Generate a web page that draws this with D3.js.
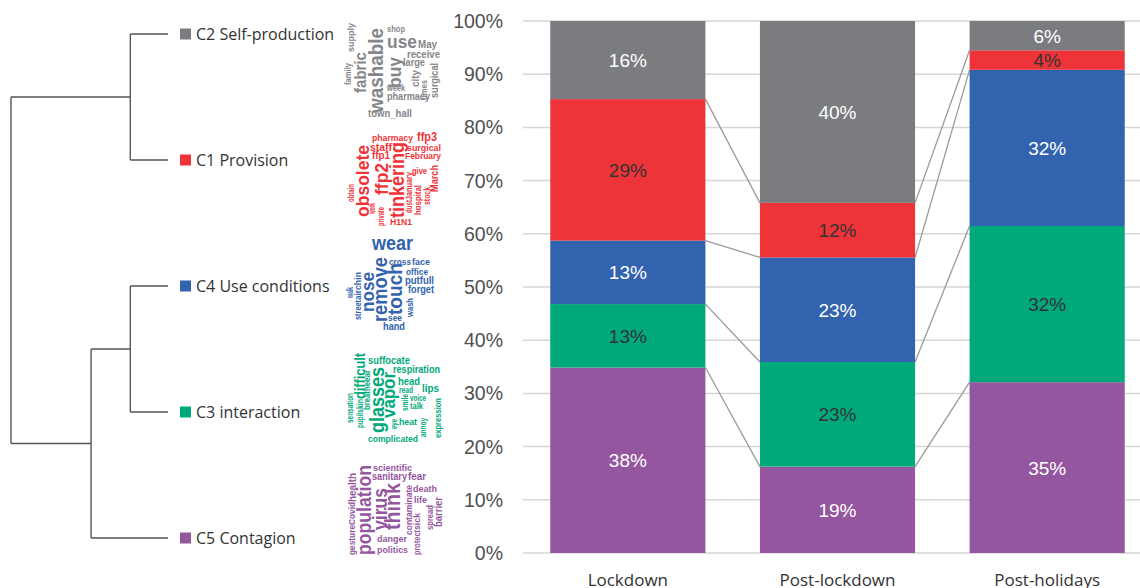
<!DOCTYPE html>
<html>
<head>
<meta charset="utf-8">
<script src="https://cdn.jsdelivr.net/npm/d3@7"></script>
<style>
  body { margin: 0; background: #fff; }
  svg { display: block; }
</style>
</head>
<body>
<div id="chart"></div>
<script>
// Clusters (stack order bottom -> top) and periods
const periods = ["Lockdown", "Post-lockdown", "Post-holidays"];
const clusterKeys = ["C5", "C3", "C4", "C1", "C2"];
const clusterNames = ["C5 Contagion", "C3 interaction", "C4 Use conditions", "C1 Provision", "C2 Self-production"];
const clusterColors = ["#9556a0", "#00a97a", "#3263ae", "#ee3439", "#7b7c80"];
const labelColors = ["#ffffff", "#333333", "#ffffff", "#333333", "#ffffff"];

// Percent labels shown in each segment (bars are drawn normalised to 100%)
const lockdownPct = [38, 13, 13, 29, 16];
const postLockdownPct = [19, 23, 23, 12, 40];
const postHolidaysPct = [35, 32, 32, 4, 6];

const tickValues = [0, 10, 20, 30, 40, 50, 60, 70, 80, 90, 100];

// Dendrogram: leaf order top -> bottom, merge heights (0 = leaf, 1 = root)
const leafOrder = ["C2", "C1", "C4", "C3", "C5"];
const mergeC2C1 = 0.24;
const mergeC4C3 = 0.24;
const mergeC43C5 = 0.49;
const mergeRoot = 1.0;

// Word clouds: [word, rotated, a, b, c]
// horizontal: a = x start, b = x end, c = baseline y ; rotated: a = centre x, b = bottom y, c = top y
// font size follows from the word's length in the picture
const cloudC2 = [
  ["family", 1, 348, 85, 63], ["supply", 1, 351, 52, 23], ["fabric", 1, 361, 93, 52],
  ["washable", 1, 376, 113, 28], ["buy", 1, 395, 88, 57], ["use", 0, 387, 417, 48],
  ["shop", 0, 387, 405, 32], ["May", 0, 418, 437, 48], ["receive", 0, 407, 440, 58],
  ["large", 0, 403, 425, 66], ["city", 1, 415, 87, 70], ["times", 1, 424, 100, 80],
  ["surgical", 1, 435, 98, 63], ["week", 0, 387, 405, 91], ["pharmacy", 0, 387, 430, 100],
  ["town_hall", 0, 368, 412, 117]
];
const cloudC1 = [
  ["pharmacy", 0, 372, 413, 141], ["ffp3", 0, 417, 437, 141], ["staff", 0, 370, 392, 151],
  ["surgical", 0, 407, 441, 151], ["ffp1", 0, 372, 390, 159], ["February", 0, 405, 441, 159],
  ["obsolete", 1, 363, 217, 145], ["ffp2", 1, 382, 195, 163], ["tinkering", 1, 397, 218, 142],
  ["obtain", 1, 351, 202, 184], ["work", 1, 372, 214, 203], ["private", 1, 381, 226, 207],
  ["dust", 1, 409, 213, 200], ["January", 1, 409, 200, 172], ["give", 0, 412, 427, 174],
  ["hospital", 1, 418, 215, 185], ["stock", 1, 427, 205, 187], ["March", 1, 435, 192, 165],
  ["H1N1", 0, 390, 412, 225]
];
const cloudC4 = [
  ["wear", 0, 372, 413, 250], ["cross", 0, 389, 411, 265], ["face", 0, 412, 430, 265],
  ["office", 0, 406, 428, 275], ["putfull", 0, 405, 434, 284], ["forget", 0, 408, 434, 293],
  ["walk", 1, 350, 298, 287], ["street", 1, 358, 320, 300], ["air", 1, 358, 300, 290],
  ["chin", 1, 358, 290, 272], ["nose", 1, 368, 312, 272], ["remove", 1, 380, 322, 257],
  ["touch", 1, 395, 315, 263], ["wash", 1, 410, 317, 298], ["see", 0, 388, 402, 321],
  ["hand", 0, 383, 405, 330]
];
const cloudC3 = [
  ["suffocate", 0, 368, 410, 364], ["respiration", 0, 393, 440, 373], ["sensation", 1, 350, 423, 393],
  ["pupil", 1, 360, 428, 413], ["skin", 1, 360, 413, 399], ["difficult", 1, 360, 399, 353],
  ["breathe", 1, 367, 410, 382], ["ear", 1, 367, 382, 370], ["glasses", 1, 377, 433, 367],
  ["vapor", 1, 389, 418, 372], ["head", 0, 398, 420, 385], ["read", 0, 399, 413, 393],
  ["lips", 0, 422, 439, 392], ["voice", 0, 410, 426, 401], ["talk", 0, 410, 423, 409],
  ["smile", 1, 405, 411, 394], ["eye", 1, 394, 429, 419], ["heat", 0, 399, 417, 425],
  ["annoy", 1, 423, 437, 418], ["expression", 1, 438, 438, 398], ["complicated", 0, 368, 418, 442]
];
const cloudC5 = [
  ["scientific", 0, 373, 412, 471], ["sanitary", 0, 372, 407, 480], ["fear", 0, 408, 426, 480],
  ["gesture", 1, 352, 555, 525], ["Covid", 1, 352, 525, 502], ["health", 1, 352, 502, 473],
  ["population", 1, 365, 555, 465], ["virus", 1, 381, 530, 488], ["think", 1, 393, 530, 483],
  ["contaminate", 1, 409, 535, 485], ["death", 0, 413, 437, 492], ["life", 0, 414, 427, 503],
  ["protect", 1, 417, 555, 530], ["sick", 1, 417, 530, 513], ["spread", 1, 430, 530, 505],
  ["barrier", 1, 439, 527, 497], ["danger", 0, 377, 407, 542], ["politics", 0, 377, 408, 553]
];
const clouds = [cloudC2, cloudC1, cloudC4, cloudC3, cloudC5];
const cloudColors = ["#85868a", "#ee3439", "#3263ae", "#00a97a", "#9556a0"];

const W = 1140, H = 588;
const svg = d3.select("#chart").append("svg").attr("width", W).attr("height", H);

// ---------- Stacked bars ----------
const table = periods.map((p, i) => {
  const vals = [lockdownPct, postLockdownPct, postHolidaysPct][i];
  const row = {period: p};
  clusterKeys.forEach((k, j) => row[k] = vals[j]);
  return row;
});
const series = d3.stack().keys(clusterKeys).offset(d3.stackOffsetExpand)(table);

const x = d3.scaleBand().domain(periods).range([523, 1152]).paddingInner(0.26).paddingOuter(0.13);
const y = d3.scaleLinear().domain([0, 1]).range([553, 21]);

// gridlines
svg.append("g").selectAll("line")
  .data(tickValues)
  .join("line")
    .attr("x1", 523).attr("x2", W)
    .attr("y1", d => y(d / 100)).attr("y2", d => y(d / 100))
    .attr("stroke", "#d6d6d6").attr("stroke-width", 1.5);

// y tick labels
svg.append("g").selectAll("text")
  .data(tickValues)
  .join("text")
    .attr("x", 503).attr("y", d => y(d / 100) + 7)
    .attr("text-anchor", "end")
    .style("font-family", "Liberation Sans, Arial, sans-serif")
    .style("font-size", "19.5px").attr("fill", "#505050")
    .text(d => d + "%");

// connector lines between adjacent bars
const connectors = [];
series.slice(0, -1).forEach(s => {
  for (let i = 0; i < periods.length - 1; i++) {
    connectors.push({x1: x(periods[i]) + x.bandwidth(), y1: y(s[i][1]), x2: x(periods[i + 1]), y2: y(s[i + 1][1])});
  }
});
svg.append("g").selectAll("line")
  .data(connectors)
  .join("line")
    .attr("x1", d => d.x1).attr("y1", d => d.y1)
    .attr("x2", d => d.x2).attr("y2", d => d.y2)
    .attr("stroke", "#9a9a9a").attr("stroke-width", 1.3);

// segments
const layer = svg.append("g").selectAll("g")
  .data(series)
  .join("g")
    .attr("fill", (d, i) => clusterColors[i]);

layer.selectAll("rect")
  .data(d => d)
  .join("rect")
    .attr("x", d => x(d.data.period))
    .attr("y", d => y(d[1]))
    .attr("width", x.bandwidth())
    .attr("height", d => y(d[0]) - y(d[1]));

// segment labels
series.forEach((s, i) => {
  svg.append("g").selectAll("text")
    .data(s)
    .join("text")
      .attr("x", d => x(d.data.period) + x.bandwidth() / 2)
      .attr("y", d => (y(d[0]) + y(d[1])) / 2 + 7)
      .attr("text-anchor", "middle")
      .style("font-family", "Liberation Sans, Arial, sans-serif")
      .style("font-size", "19px")
      .attr("fill", labelColors[i])
      .text(d => d.data[s.key] + "%");
});

// x category labels
svg.append("g").selectAll("text")
  .data(periods)
  .join("text")
    .attr("x", d => x(d) + x.bandwidth() / 2)
    .attr("y", 586)
    .attr("text-anchor", "middle")
    .style("font-family", "Open Sans, sans-serif")
    .style("font-size", "17px").attr("fill", "#333")
    .text(d => d);

// ---------- Dendrogram ----------
const nameOf = k => clusterNames[clusterKeys.indexOf(k)];
const colorOf = k => clusterColors[clusterKeys.indexOf(k)];
const tree = {h: mergeRoot, children: [
  {h: mergeC2C1, children: [{key: "C2", h: 0}, {key: "C1", h: 0}]},
  {h: mergeC43C5, children: [
    {h: mergeC4C3, children: [{key: "C4", h: 0}, {key: "C3", h: 0}]},
    {key: "C5", h: 0}
  ]}
]};
const root = d3.hierarchy(tree);
const dx = d3.scaleLinear().domain([1, 0]).range([11, 168]);
const dy = d3.scalePoint().domain(leafOrder).range([34, 538]);
root.eachAfter(n => {
  n.py = n.children ? d3.mean(n.children, c => c.py) : dy(n.data.key);
  n.px = dx(n.data.h);
});

const dendro = svg.append("g").attr("stroke", "#555").attr("stroke-width", 1.4).attr("fill", "none");
root.descendants().filter(n => n.children).forEach(n => {
  dendro.append("line")
    .attr("x1", n.px).attr("x2", n.px)
    .attr("y1", d3.min(n.children, c => c.py)).attr("y2", d3.max(n.children, c => c.py));
  n.children.forEach(c => {
    dendro.append("line")
      .attr("x1", n.px).attr("x2", c.px)
      .attr("y1", c.py).attr("y2", c.py);
  });
});

const leaves = svg.append("g").selectAll("g")
  .data(root.leaves())
  .join("g")
    .attr("transform", d => `translate(${d.px},${d.py})`);
leaves.append("rect")
  .attr("x", 12).attr("y", -5.5).attr("width", 11).attr("height", 11)
  .attr("fill", d => colorOf(d.data.key));
leaves.append("text")
  .attr("x", 28).attr("y", 6)
  .style("font-family", "Open Sans, sans-serif")
  .style("font-size", "16px").attr("fill", "#333")
  .text(d => nameOf(d.data.key));

// ---------- Word clouds ----------
clouds.forEach((words, ci) => {
  const g = svg.append("g")
    .attr("fill", cloudColors[ci])
    .style("font-family", "Liberation Sans Narrow, Liberation Sans, Arial, sans-serif")
    .style("font-weight", "bold");
  words.forEach(([w, rot, a, b, c]) => {
    const len = rot ? b - c : b - a;
    const t = g.append("text").style("font-size", "10px").text(w);
    const natural = t.node().getComputedTextLength();
    const s = Math.max(1.1 * 10 * len / natural, 9);
    t.style("font-size", s.toFixed(2) + "px")
      .attr("textLength", len).attr("lengthAdjust", "spacingAndGlyphs");
    if (rot) {
      t.attr("transform", `translate(${a + 0.33 * s},${b}) rotate(-90)`);
    } else {
      t.attr("x", a).attr("y", c);
    }
  });
});
</script>
</body>
</html>
